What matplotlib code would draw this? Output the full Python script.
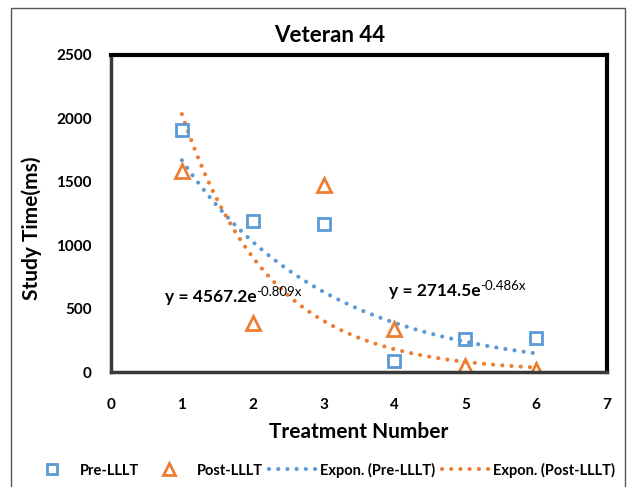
import numpy as np
import matplotlib
matplotlib.use("Agg")
import matplotlib.pyplot as plt
from matplotlib.lines import Line2D
from matplotlib.patches import Rectangle

plt.rcParams['font.family'] = ['Lato', 'DejaVu Sans']

treatment = [1, 2, 3, 4, 5, 6]
pre_lllt = [1905, 1190, 1165, 85, 260, 270]
post_lllt = [1585, 385, 1475, 340, 45, 15]

# trendline coefficients as printed on the chart
pre_a, pre_b = 2714.5, -0.486
post_a, post_b = 4567.2, -0.809

blue = '#5B9BD5'
orange = '#ED7D31'

fig = plt.figure(figsize=(6.29, 4.87), dpi=100)
ax = fig.add_axes([111/629, 1-372/487, 496/629, 317/487])

xs = np.linspace(1, 6, 200)
dot = (0, (0.01, 2.2))
ax.plot(xs, pre_a*np.exp(pre_b*xs), color=blue, lw=3, ls=dot, dash_capstyle='round')
ax.plot(xs, post_a*np.exp(post_b*xs), color=orange, lw=3, ls=dot, dash_capstyle='round')
ax.plot(treatment, pre_lllt, ls='none', marker='s', ms=9, mfc='none', mec=blue, mew=2)
ax.plot(treatment, post_lllt, ls='none', marker='^', ms=10, mfc='none', mec=orange, mew=2)

ax.set_xlim(0, 7)
ax.set_ylim(0, 2500)
ax.set_xticks(range(0, 8))
ax.set_yticks(range(0, 2501, 500))
ax.tick_params(length=0, labelsize=11)
ax.tick_params(axis='y', pad=14)
ax.tick_params(axis='x', pad=19)
for lab in ax.get_xticklabels() + ax.get_yticklabels():
    lab.set_fontweight('bold')

for s in ['top', 'right']:
    ax.spines[s].set_linewidth(3)
    ax.spines[s].set_color('black')
for s in ['left', 'bottom']:
    ax.spines[s].set_linewidth(2.5)
    ax.spines[s].set_color('#3a3a3a')

ax.set_xlabel('Treatment Number', fontsize=15, fontweight='bold', va='center')
ax.xaxis.set_label_coords(0.5, (372-432)/317)
ax.set_ylabel('Study Time(ms)', fontsize=15, fontweight='bold', va='center')
ax.yaxis.set_label_coords(-(111-32)/496, (372-228)/317)

# equation labels
def equation(x, y, a, b):
    t = ax.text(x, y, 'y = %.1fe' % a, fontsize=12.5, fontweight='bold', va='center', ha='left')
    ax.annotate('%.3fx' % b, xy=(1, 0.42), xycoords=t, fontsize=9.5, va='bottom', ha='left')

equation(0.76, 590, post_a, post_b)
equation(3.92, 640, pre_a, pre_b)

fig.text(330/629, 1-36/487, 'Veteran 44', fontsize=16, fontweight='bold', ha='center', va='center')

handles = [
    Line2D([], [], ls='none', marker='s', ms=7, mfc='none', mec=blue, mew=2),
    Line2D([], [], ls='none', marker='^', ms=8, mfc='none', mec=orange, mew=2),
    Line2D([], [], color=blue, lw=3, ls=dot, dash_capstyle='round'),
    Line2D([], [], color=orange, lw=3, ls=dot, dash_capstyle='round'),
]
labels = ['Pre-LLLT', 'Post-LLLT', 'Expon. (Pre-LLLT)', 'Expon. (Post-LLLT)']
fig.legend(handles, labels, loc='center', bbox_to_anchor=(322/629, 1-470/487), ncol=4,
           frameon=False, handlelength=3.2, handletextpad=0.3,
           columnspacing=0.45, prop={'weight': 'bold', 'size': 10.5})

fig.patches.append(Rectangle((11/629, -0.05), 614/629, 1.05-8/487, transform=fig.transFigure,
                             fill=False, edgecolor='#555555', lw=1))

fig.savefig('out.png', dpi=100)
